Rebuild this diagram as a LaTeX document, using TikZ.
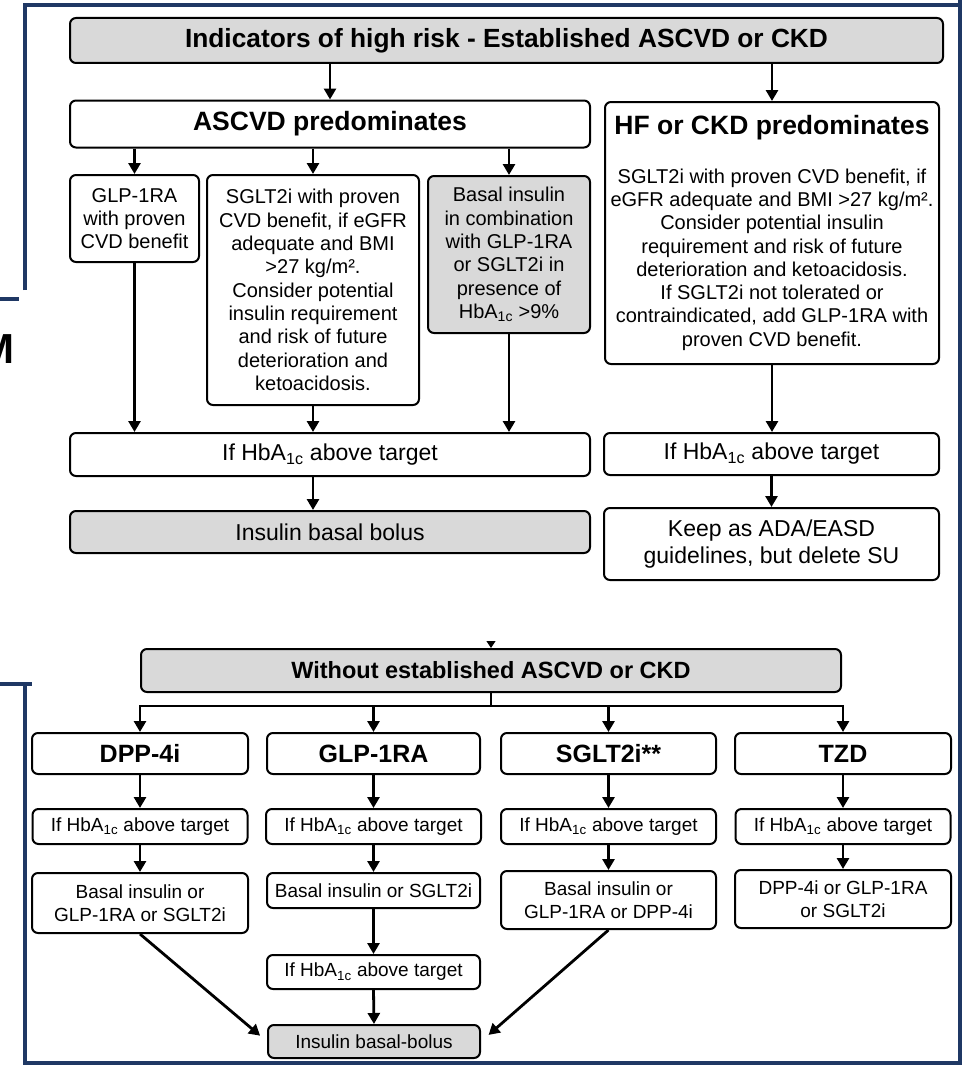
\documentclass[tikz,border=0pt]{standalone}
\usepackage{fontspec}
\setmainfont{Liberation Sans}
\usetikzlibrary{arrows.meta,positioning}
\definecolor{frameblue}{RGB}{31,56,100}
\newcommand{\setfs}[2]{\fontsize{#1}{#2}\selectfont}
\tikzset{box/.style={rectangle,rounded corners=6pt,draw,line width=2pt,fill=white,align=center,inner sep=0pt,font=\setfs{20}{23.3}},
         grey box/.style={box,fill=black!15},
         head/.style={font=\setfs{25}{30}\bfseries},
         mid/.style={font=\setfs{23}{27.7}},
         small/.style={font=\setfs{19}{23.3}},
         frame line/.style={draw=frameblue,line width=4pt}
}

\begin{document}
\begin{tikzpicture}[x=1pt,y=-1pt,>={Triangle[width=12pt,length=11pt]},line width=2.8pt]
\useasboundingbox (0,0) rectangle (961,1065);
\fill[white] (0,0) rectangle (961,1065);
% blue frames
\draw[frame line] (25,290) -- (25,5) -- (961,5);
\draw[frame line] (0,299) -- (19,299);
\draw[frame line] (0,683.5) -- (32,683.5);
\draw[frame line] (25,683) -- (25,1063) -- (961,1063);
\draw[frame line] (959.5,0) -- (959.5,1065);
\node[font=\setfs{42}{42}\bfseries,anchor=base east,inner sep=0pt] (cutM) at (16,363) {M};

% established ASCVD or CKD
\node[grey box,font=\setfs{26.3}{31}\bfseries,minimum width=873,minimum height=45] (risk) at (506.5,40.5) {Indicators of high risk - Established ASCVD or CKD};
\node[box,font=\setfs{26.5}{31}\bfseries,minimum width=520,minimum height=47] (ascvd) at (330,124) {ASCVD predominates};
\node[box,minimum width=334,minimum height=262] (hf) at (772,233) {{\setfs{26.5}{31}\bfseries HF or CKD predominates}\\[25pt]
    SGLT2i with proven CVD benefit, if\\eGFR adequate and BMI >27 kg/m².\\Consider potential insulin\\requirement and risk of future\\
    deterioration and ketoacidosis.\\If SGLT2i not tolerated or\\contraindicated,  add GLP-1RA with\\proven CVD benefit.};
\node[box,minimum width=129,minimum height=87] (glp) at (134.5,218.5) {GLP-1RA\\with proven\\CVD benefit};
\node[box,minimum width=212,minimum height=230] (sglt) at (313,290) {SGLT2i with proven\\CVD benefit, if eGFR\\adequate and BMI\\>27 kg/m².\\Consider potential\\
    insulin requirement\\and risk of future\\deterioration and\\ketoacidosis.};
\node[grey box,minimum width=162,minimum height=157] (basal) at (509,254.5) {Basal insulin\\in combination\\with GLP-1RA\\or SGLT2i in\\presence of\\HbA\textsubscript{1c} >9\%};
\node[box,mid,minimum width=520,minimum height=43] (hbleft) at (330,454.5) {If HbA\textsubscript{1c} above target};
\node[box,mid,minimum width=335,minimum height=42] (hbright) at (771.5,454) {If HbA\textsubscript{1c} above target};
\node[grey box,mid,minimum width=520,minimum height=42] (bolus) at (330,532) {Insulin basal bolus};
\node[box,mid,minimum width=335,minimum height=72] (keep) at (771.5,544) {Keep as ADA/EASD\\guidelines, but delete SU};

\draw[->] (ascvd.north |- risk.south) -- (ascvd.north);
\draw[->] (hf.north |- risk.south) -- (hf.north);
\foreach \n in {glp,sglt,basal}{
  \draw[->] (\n.north |- ascvd.south) -- (\n.north);
  \draw[->] (\n.south) -- (\n.south |- hbleft.north);
}
\draw[->] (hf.south) -- (hf.south |- hbright.north);
\draw[->] (sglt.south |- hbleft.south) -- (sglt.south |- bolus.north);
\draw[->] (hbright.south) -- (keep.north);

% without ASCVD or CKD
\node[grey box,font=\setfs{23.5}{28}\bfseries,minimum width=700,minimum height=43] (without) at (491,670.5) {Without established ASCVD or CKD};
\coordinate (tiptop) at (491,642);
\draw[->,line width=1pt,>={Triangle[width=9pt,length=7pt]}] (tiptop) -- (without.north);

\node[box,head,minimum width=216,minimum height=41] (dpp) at (140,753.5) {DPP-4i};
\node[box,head,minimum width=213,minimum height=41] (glph) at (373.5,753.5) {GLP-1RA};
\node[box,head,minimum width=215,minimum height=41] (sglth) at (608.5,753.5) {SGLT2i**};
\node[box,head,minimum width=216,minimum height=41] (tzd) at (843,753.5) {TZD};
\foreach \n in {dpp,glph,sglth,tzd}
  \node[box,small,minimum width=215,minimum height=35,below=33pt of \n.south,anchor=north] (\n hb) {If HbA\textsubscript{1c} above target};

\node[box,small,minimum width=216,minimum height=60] (dpp3) at (140,903) {Basal insulin or\\GLP-1RA or SGLT2i};
\node[box,small,minimum width=213,minimum height=35] (glp3) at (373.5,890.5) {Basal insulin or SGLT2i};
\node[box,small,minimum width=215,minimum height=58] (sglt3) at (608.5,900) {Basal insulin or\\GLP-1RA or DPP-4i};
\node[box,small,minimum width=216,minimum height=58] (tzd3) at (843,899) {DPP-4i or GLP-1RA\\or SGLT2i};
\node[box,small,minimum width=213,minimum height=34] (glp4) at (373.5,972) {If HbA\textsubscript{1c} above target};
\node[grey box,small,minimum width=212,minimum height=33] (bolus2) at (374,1041.5) {Insulin basal-bolus};

\coordinate (split) at (491,706);
\draw (without.south) -- (split);
\draw[line cap=rect] (dpp.north |- split) -- (tzd.north |- split);
\foreach \n in {dpp,glph,sglth,tzd}{
  \draw[->] (\n.north |- split) -- (\n.north);
  \draw[->] (\n.south) -- (\n hb.north);
}
\draw[->] (dpphb.south) -- (dpp3.north);
\draw[->] (glphhb.south) -- (glp3.north);
\draw[->] (sglthhb.south) -- (sglt3.north);
\draw[->] (tzdhb.south) -- (tzd3.north);
\draw[->] (glp3.south) -- (glp4.north);
\draw[->] (glp4.south) -- (bolus2.north);
\draw[->,shorten >=9pt] (dpp3.south) -- (bolus2.west);
\draw[->,shorten >=10pt] (sglt3.south) -- (bolus2.east);
\end{tikzpicture}
\end{document}
